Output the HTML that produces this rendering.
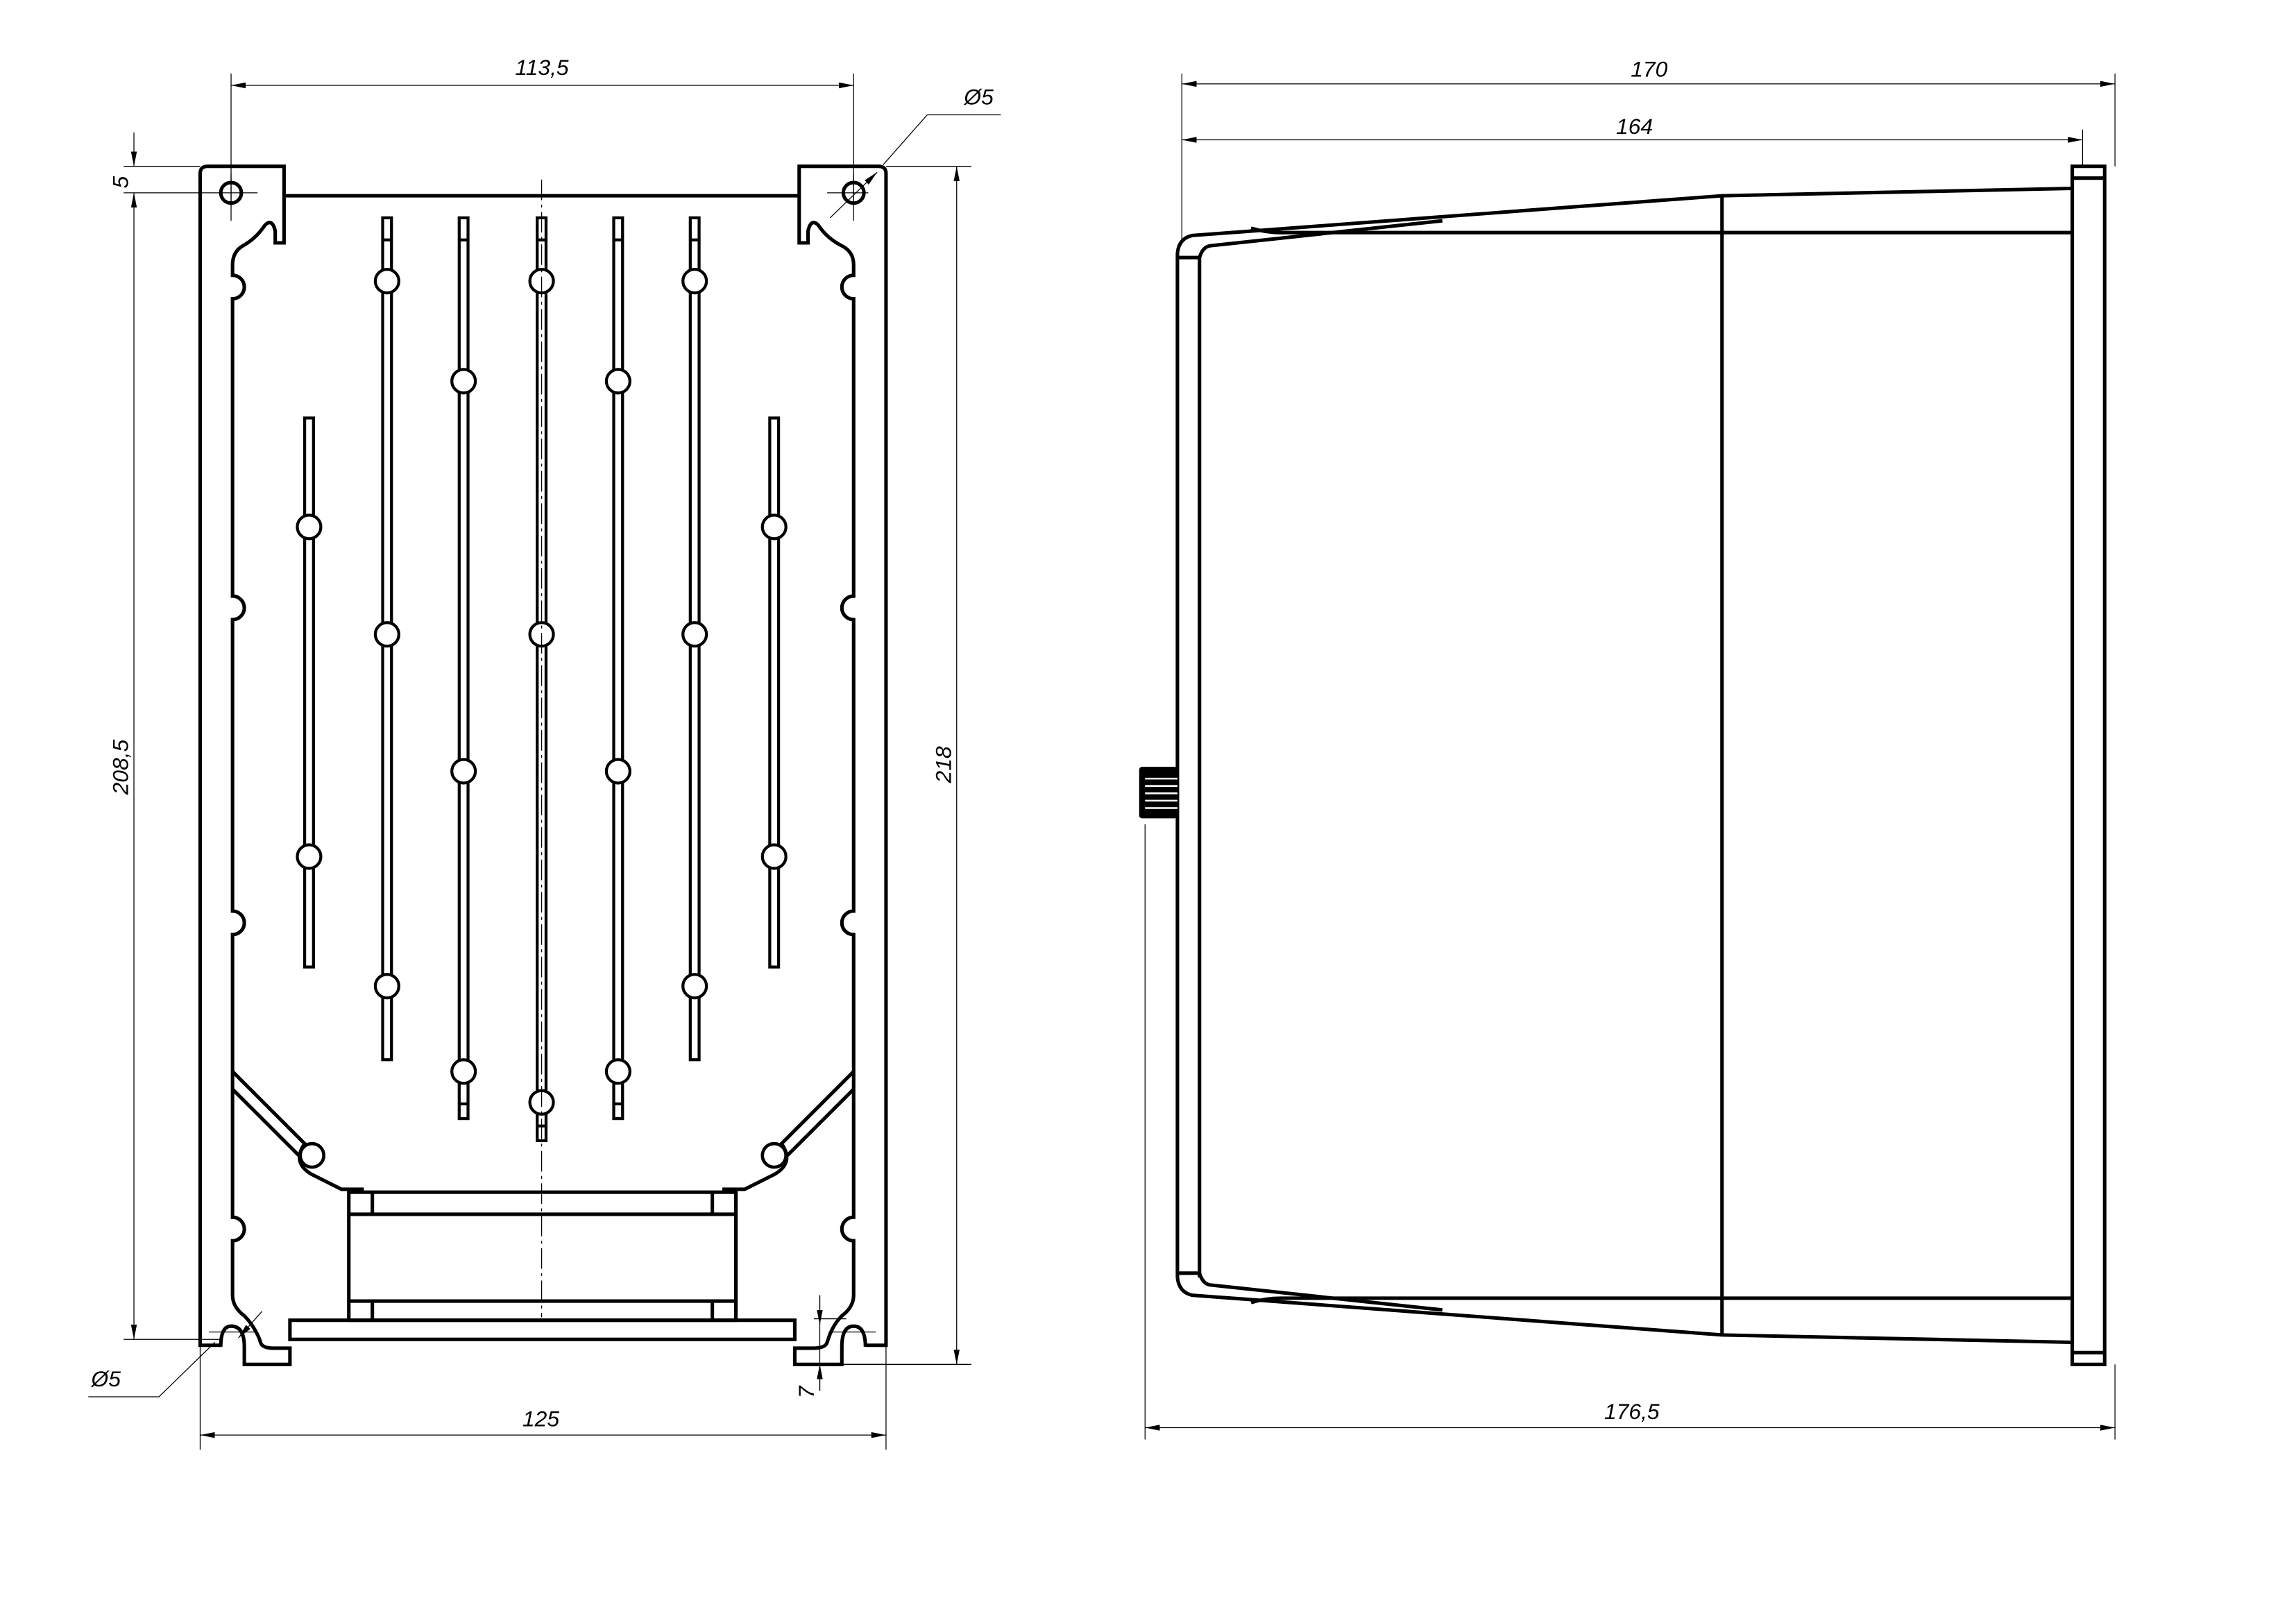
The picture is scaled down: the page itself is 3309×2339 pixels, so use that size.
<!DOCTYPE html>
<html><head><meta charset="utf-8"><style>
html,body{margin:0;padding:0;background:#fff}
svg{display:block}
text{font-family:"Liberation Sans",sans-serif;font-style:italic;font-size:15px;fill:#000}
</style></head><body>
<svg width="3309" height="2339" viewBox="0 0 1560 1102.7" preserveAspectRatio="none" xmlns="http://www.w3.org/2000/svg">
<defs>
<marker id="a" viewBox="0 0 10 4" refX="10" refY="2" markerWidth="10" markerHeight="4" orient="auto-start-reverse" markerUnits="userSpaceOnUse"><path d="M0,0 L10,2 L0,4z" fill="#000"/></marker>
</defs>
<g fill="none" stroke="#000" stroke-width="2.4">
<!-- left view outline -->
<path d="M193,113 L141,113 Q136,113 136,118 L136,914 L150,914 L150,915 Q150,901 157,901 Q166,901 166,915 L166,927 L197,927 L197,916 L186,916 Q178,916 177,912 L176,909 Q172,900 166,894 Q158,888 158,880 L158,843 A8,8 0 0 0 158,827 L158,635 A8,8 0 0 0 158,619 L158,421 A8,8 0 0 0 158,405 L158,203 A8,8 0 0 0 158,187 L158,180 Q158,171 165,167 Q174,162 180,153 Q185,148 187,157 L187,165 L193,165 Z"/>
<path d="M543,113 L597,113 Q602,113 602,118 L602,914 L588,914 L588,915 Q588,901 580,901 Q572,901 572,915 L572,927 L540,927 L540,916 L552,916 Q561,916 562,912 L563,909 Q566,900 572,894 Q580,888 580,880 L580,843 A8,8 0 0 1 580,827 L580,635 A8,8 0 0 1 580,619 L580,421 A8,8 0 0 1 580,405 L580,203 A8,8 0 0 1 580,187 L580,180 Q580,171 572,167 Q562,162 556,153 Q551,148 549,157 L549,165 L543,165 Z"/>
<line x1="193" y1="133" x2="543" y2="133"/>
<!-- bottom bar -->
<rect x="197" y="897" width="343" height="13"/>
<rect x="237" y="810" width="263" height="87"/>
<line x1="237" y1="825" x2="500" y2="825"/>
<line x1="237" y1="884" x2="500" y2="884"/>
<line x1="253" y1="810" x2="253" y2="825"/><line x1="484" y1="810" x2="484" y2="825"/>
<line x1="253" y1="884" x2="253" y2="897"/><line x1="484" y1="884" x2="484" y2="897"/>
<!-- diagonals -->
<path d="M158,728 L207,777 Q198,790 212,798 L232,808 L246,808 L246,810"/>
<path d="M158,740 L203,785"/>
<path d="M580,728 L531,777 Q540,790 526,798 L506,808 L492,808 L492,810"/>
<path d="M580,740 L535,785"/>
<circle cx="157" cy="131" r="7"/><circle cx="580" cy="131" r="7"/>
</g>
<g fill="#fff" stroke="#000" stroke-width="2.2">
<circle cx="212" cy="785" r="8"/><circle cx="526" cy="785" r="8"/>
</g>
<g fill="#fff" stroke="#000" stroke-width="2">
<!-- slots -->
<rect x="260" y="148" width="6" height="572"/><rect x="312" y="148" width="6" height="612"/>
<rect x="365" y="148" width="6" height="627"/><rect x="417" y="148" width="6" height="612"/>
<rect x="469" y="148" width="6" height="572"/><rect x="207" y="284" width="6" height="373"/>
<rect x="523" y="284" width="6" height="373"/>
<circle cx="263" cy="191" r="8"/><circle cx="263" cy="431" r="8"/><circle cx="263" cy="670" r="8"/>
<circle cx="315" cy="259" r="8"/><circle cx="315" cy="524" r="8"/><circle cx="315" cy="728" r="8"/>
<circle cx="368" cy="191" r="8"/><circle cx="368" cy="431" r="8"/><circle cx="368" cy="749" r="8"/>
<circle cx="420" cy="259" r="8"/><circle cx="420" cy="524" r="8"/><circle cx="420" cy="728" r="8"/>
<circle cx="472" cy="191" r="8"/><circle cx="472" cy="431" r="8"/><circle cx="472" cy="670" r="8"/>
<circle cx="210" cy="358" r="8"/><circle cx="210" cy="582" r="8"/>
<circle cx="526" cy="358" r="8"/><circle cx="526" cy="582" r="8"/>
</g>
<g stroke="#000" stroke-width="2" fill="none">
<path d="M260,163h6M312,163h6M365,163h6M417,163h6M469,163h6M312,750h6M417,750h6M365,765h6"/>
</g>
<g stroke="#000" stroke-width="0.6" fill="none">
<line x1="368" y1="122" x2="368" y2="895" stroke-dasharray="14,3,2,3"/>
<!-- dims left -->
<line x1="157" y1="50" x2="157" y2="140"/><line x1="580" y1="50" x2="580" y2="140"/>
<line x1="157" y1="58" x2="580" y2="58" marker-start="url(#a)" marker-end="url(#a)"/>
<line x1="136" y1="914" x2="136" y2="985"/><line x1="602" y1="914" x2="602" y2="985"/>
<line x1="136" y1="975" x2="602" y2="975" marker-start="url(#a)" marker-end="url(#a)"/>
<line x1="84" y1="113" x2="136" y2="113"/><line x1="84" y1="131" x2="175" y2="131"/>
<line x1="84" y1="910" x2="150" y2="910"/>
<line x1="91" y1="90" x2="91" y2="113" marker-end="url(#a)"/><line x1="91" y1="131" x2="91" y2="910" marker-start="url(#a)" marker-end="url(#a)"/>
<line x1="602" y1="113" x2="660" y2="113"/><line x1="572" y1="927" x2="660" y2="927"/>
<line x1="650" y1="113" x2="650" y2="927" marker-start="url(#a)" marker-end="url(#a)"/>
<line x1="562" y1="131" x2="590" y2="131"/><line x1="580" y1="118" x2="580" y2="150"/>
<line x1="157" y1="118" x2="157" y2="150"/>
<path d="M600,112 L630,78 L680,78"/><line x1="564" y1="148" x2="596" y2="117" marker-end="url(#a)"/>
<path d="M60,949 L108,949 L146,912"/><line x1="178" y1="891" x2="162" y2="909" marker-end="url(#a)"/>
<line x1="557" y1="880" x2="557" y2="945"/><line x1="557" y1="880" x2="557" y2="900" marker-end="url(#a)"/>
<line x1="557" y1="945" x2="557" y2="927" marker-end="url(#a)"/>
<line x1="553" y1="896" x2="575" y2="896"/><line x1="572" y1="927" x2="600" y2="927"/>
<line x1="142" y1="905" x2="175" y2="905"/>
<line x1="563" y1="905" x2="595" y2="905"/>
<!-- dims right -->
<line x1="803" y1="50" x2="803" y2="165"/><line x1="1437" y1="50" x2="1437" y2="113"/>
<line x1="1415" y1="88" x2="1415" y2="113"/><line x1="778" y1="560" x2="778" y2="978"/><line x1="1437" y1="927" x2="1437" y2="978"/>
<line x1="803" y1="57" x2="1437" y2="57" marker-start="url(#a)" marker-end="url(#a)"/>
<line x1="803" y1="95" x2="1415" y2="95" marker-start="url(#a)" marker-end="url(#a)"/>
<line x1="778" y1="970" x2="1437" y2="970" marker-start="url(#a)" marker-end="url(#a)"/>
</g>
<!-- right view -->
<g fill="none" stroke="#000" stroke-width="2.4">
<rect x="1408" y="113" width="22" height="814"/>
<line x1="1408" y1="121" x2="1430" y2="121"/><line x1="1408" y1="919" x2="1430" y2="919"/>
<path d="M800,868 L800,172 Q801,162 810,160 L1170,133 L1408,128"/>
<path d="M815,868 L815,175 Q817,168 822,167 L980,150"/>
<path d="M850,155 Q860,158 870,158 L1408,158"/>
<path d="M800,868 Q801,878 810,880 L1170,907 L1408,912"/>
<path d="M815,865 Q817,872 822,873 L980,890"/>
<path d="M850,885 Q860,882 870,882 L1408,882"/>
<line x1="800" y1="175" x2="815" y2="175"/><line x1="800" y1="865" x2="815" y2="865"/>
<line x1="1170" y1="133" x2="1170" y2="907"/>
</g>
<rect x="774" y="521" width="26" height="35" rx="2" fill="#000"/>
<g stroke="#fff" stroke-width="1.2"><path d="M778,529h22M778,534h22M778,539h22M778,544h22M778,549h22"/></g>
<g>
<text x="350" y="51">113,5</text>
<text x="655" y="71">Ø5</text>
<text x="62" y="942">Ø5</text>
<text x="355" y="969">125</text>
<text x="1108" y="52">170</text>
<text x="1098" y="91">164</text>
<text x="1090" y="964">176,5</text>
<text transform="translate(87,128) rotate(-90)">5</text>
<text transform="translate(87,540) rotate(-90)">208,5</text>
<text transform="translate(646,532) rotate(-90)">218</text>
<text transform="translate(553,950) rotate(-90)">7</text>
</g>
</svg>
</body></html>
